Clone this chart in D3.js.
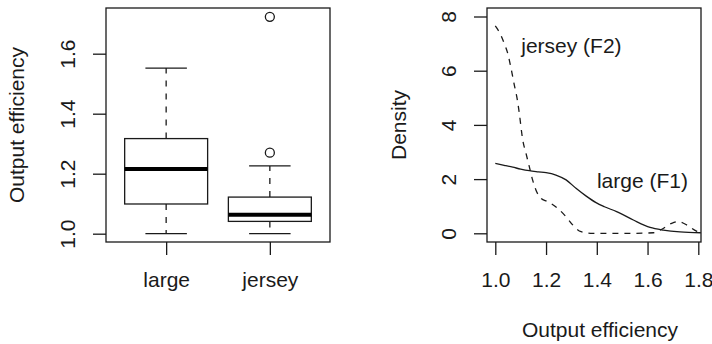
<!DOCTYPE html>
<html>
<head>
<meta charset="utf-8">
<script src="https://cdn.jsdelivr.net/npm/d3@7"></script>
<style>
  body { margin: 0; background: #fff; }
  svg { display: block; }
  text { font-family: "Liberation Sans", Arial, Helvetica, sans-serif; fill: #1a1a1a; }
</style>
</head>
<body>
<svg id="chart" width="712" height="344"></svg>
<script>
// ---- Box plot: output efficiency by breed ----
const categories = ["large", "jersey"];
const whiskerLow = [1.0, 1.0];
const q1 = [1.099, 1.041];
const median = [1.216, 1.063];
const q3 = [1.317, 1.122];
const whiskerHigh = [1.552, 1.226];
const outliers = [[], [1.27, 1.723]];
const boxTicks = [1.0, 1.2, 1.4, 1.6];

// ---- Kernel density estimates of output efficiency ----
const largeX = [1.0, 1.035, 1.069, 1.10, 1.134, 1.17, 1.2, 1.239, 1.279, 1.318, 1.357, 1.397, 1.43, 1.478, 1.544, 1.61, 1.662, 1.728, 1.81];
const largeY = [2.58, 2.51, 2.44, 2.37, 2.31, 2.27, 2.24, 2.15, 1.97, 1.66, 1.38, 1.13, 0.98, 0.80, 0.49, 0.22, 0.12, 0.05, 0.02];
const jerseyX = [1.0, 1.022, 1.035, 1.049, 1.062, 1.075, 1.088, 1.095, 1.108, 1.121, 1.134, 1.147, 1.160, 1.18, 1.206, 1.246, 1.279, 1.305, 1.338, 1.384, 1.45, 1.55, 1.623, 1.656, 1.695, 1.721, 1.754, 1.793, 1.81];
const jerseyY = [7.65, 7.31, 7.01, 6.64, 6.09, 5.47, 4.86, 4.40, 3.45, 2.95, 2.46, 1.97, 1.60, 1.29, 1.17, 0.92, 0.61, 0.31, 0.06, 0.0, 0.0, 0.0, 0.02, 0.15, 0.37, 0.43, 0.31, 0.08, 0.02];
const densityXTicks = [1.0, 1.2, 1.4, 1.6, 1.8];
const densityYTicks = [0, 2, 4, 6, 8];
const curveLabels = ["jersey (F2)", "large (F1)"];
const curveLabelX = [1.30, 1.58];
const curveLabelY = [6.9, 1.9];

const svg = d3.select("#chart");
const ink = "#1a1a1a";
const fontSize = 21;

// ================= left panel: box plot =================
const L = { x0: 106, x1: 330, y0: 8, y1: 242 };
const xL = d3.scaleLinear().domain([0.42, 2.58]).range([L.x0, L.x1]);
const yL = d3.scaleLinear().domain([0.9723, 1.7523]).range([L.y1, L.y0]);
const boxW = xL(1.8) - xL(1.0);   // box width: 0.8 category units
const capW = boxW / 2;            // staple width: half the box

const left = svg.append("g");
left.append("rect")
  .attr("x", L.x0).attr("y", L.y0)
  .attr("width", L.x1 - L.x0).attr("height", L.y1 - L.y0)
  .attr("fill", "none").attr("stroke", ink).attr("stroke-width", 1.3);

const boxes = left.selectAll("g.box")
  .data(categories.map((c, i) => ({ c, i, pos: i + 1 })))
  .join("g").attr("class", "box");

// whiskers
boxes.append("line")
  .attr("x1", d => xL(d.pos)).attr("x2", d => xL(d.pos))
  .attr("y1", d => yL(q3[d.i])).attr("y2", d => yL(whiskerHigh[d.i]))
  .attr("stroke", ink).attr("stroke-width", 1.3).attr("stroke-dasharray", "6,7");
boxes.append("line")
  .attr("x1", d => xL(d.pos)).attr("x2", d => xL(d.pos))
  .attr("y1", d => yL(q1[d.i])).attr("y2", d => yL(whiskerLow[d.i]))
  .attr("stroke", ink).attr("stroke-width", 1.3).attr("stroke-dasharray", "6,7");
// staples
[whiskerHigh, whiskerLow].forEach(arr => {
  boxes.append("line")
    .attr("x1", d => xL(d.pos) - capW / 2).attr("x2", d => xL(d.pos) + capW / 2)
    .attr("y1", d => yL(arr[d.i])).attr("y2", d => yL(arr[d.i]))
    .attr("stroke", ink).attr("stroke-width", 1.3);
});
// boxes
boxes.append("rect")
  .attr("x", d => xL(d.pos) - boxW / 2).attr("width", boxW)
  .attr("y", d => yL(q3[d.i])).attr("height", d => yL(q1[d.i]) - yL(q3[d.i]))
  .attr("fill", "#fff").attr("stroke", ink).attr("stroke-width", 1.3);
// medians
boxes.append("line")
  .attr("x1", d => xL(d.pos) - boxW / 2).attr("x2", d => xL(d.pos) + boxW / 2)
  .attr("y1", d => yL(median[d.i])).attr("y2", d => yL(median[d.i]))
  .attr("stroke", "#000").attr("stroke-width", 4);
// outliers
boxes.selectAll("circle")
  .data(d => outliers[d.i].map(v => ({ v, pos: d.pos })))
  .join("circle")
  .attr("cx", d => xL(d.pos)).attr("cy", d => yL(d.v)).attr("r", 4.5)
  .attr("fill", "none").attr("stroke", ink).attr("stroke-width", 1.3);

// axes
const tickLen = 13;
const yAxisL = left.append("g").attr("transform", `translate(${L.x0},0)`)
  .call(d3.axisLeft(yL).tickValues(boxTicks).tickSize(tickLen).tickFormat(d3.format(".1f")));
const xAxisL = left.append("g").attr("transform", `translate(0,${L.y1})`)
  .call(d3.axisBottom(xL).tickValues([1, 2]).tickSize(tickLen).tickPadding(17.4)
    .tickFormat(d => categories[d - 1]));

// ================= right panel: densities =================
const R = { x0: 487, x1: 701, y0: 8, y1: 242 };
const xR = d3.scaleLinear().domain([1.0, 1.8]).range([495.3, 698.3]);
const yR = d3.scaleLinear().domain([0, 8]).range([233.3, 16.5]);

const right = svg.append("g");
right.append("rect")
  .attr("x", R.x0).attr("y", R.y0)
  .attr("width", R.x1 - R.x0).attr("height", R.y1 - R.y0)
  .attr("fill", "none").attr("stroke", ink).attr("stroke-width", 1.3);

const line = d3.line().x(d => xR(d[0])).y(d => yR(d[1])).curve(d3.curveMonotoneX);
right.append("path")
  .attr("d", line(largeX.map((x, i) => [x, largeY[i]])))
  .attr("fill", "none").attr("stroke", ink).attr("stroke-width", 1.3);
right.append("path")
  .attr("d", line(jerseyX.map((x, i) => [x, jerseyY[i]])))
  .attr("fill", "none").attr("stroke", ink).attr("stroke-width", 1.3)
  .attr("stroke-dasharray", "6,6");

right.selectAll("text.curve-label")
  .data(curveLabels)
  .join("text").attr("class", "curve-label")
  .attr("x", (d, i) => xR(curveLabelX[i]))
  .attr("y", (d, i) => yR(curveLabelY[i]))
  .attr("dy", "0.3em")
  .attr("text-anchor", "middle")
  .attr("font-size", fontSize)
  .text(d => d);

const yAxisR = right.append("g").attr("transform", `translate(${R.x0},0)`)
  .call(d3.axisLeft(yR).tickValues(densityYTicks).tickSize(tickLen).tickFormat(d3.format("d")));
const xAxisR = right.append("g").attr("transform", `translate(0,${R.y1})`)
  .call(d3.axisBottom(xR).tickValues(densityXTicks).tickSize(tickLen).tickPadding(17.4)
    .tickFormat(d3.format(".1f")));

// common axis styling: no domain line, rotated y labels
[yAxisL, xAxisL, yAxisR, xAxisR].forEach(ax => {
  ax.select(".domain").remove();
  ax.selectAll(".tick line").attr("stroke", ink).attr("stroke-width", 1.3);
  ax.selectAll(".tick text")
    .attr("font-size", fontSize)
    .attr("font-family", "Liberation Sans, Arial, sans-serif")
    .attr("fill", ink);
});
[yAxisL, yAxisR].forEach(ax => {
  ax.selectAll(".tick text")
    .attr("transform", "rotate(-90)")
    .attr("x", 0).attr("y", -31).attr("dy", null)
    .attr("text-anchor", "middle");
});

// axis titles
svg.append("text")
  .attr("transform", `translate(24,125) rotate(-90)`)
  .attr("text-anchor", "middle").attr("font-size", fontSize)
  .text("Output efficiency");
svg.append("text")
  .attr("transform", `translate(406,125) rotate(-90)`)
  .attr("text-anchor", "middle").attr("font-size", fontSize)
  .text("Density");
svg.append("text")
  .attr("x", 600).attr("y", 337)
  .attr("text-anchor", "middle").attr("font-size", fontSize)
  .text("Output efficiency");
</script>
</body>
</html>
